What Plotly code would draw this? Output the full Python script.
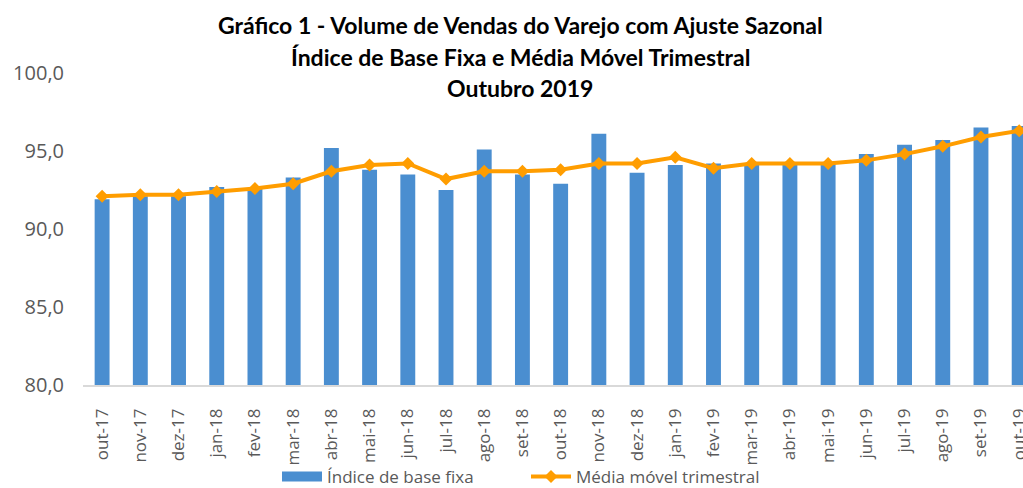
import plotly.graph_objects as go

categorias = ["out-17", "nov-17", "dez-17", "jan-18", "fev-18", "mar-18", "abr-18", "mai-18",
              "jun-18", "jul-18", "ago-18", "set-18", "out-18", "nov-18", "dez-18", "jan-19",
              "fev-19", "mar-19", "abr-19", "mai-19", "jun-19", "jul-19", "ago-19", "set-19", "out-19"]

indice_base_fixa = [91.9, 92.1, 92.1, 92.7, 92.6, 93.3, 95.2, 93.8, 93.5, 92.5, 95.1, 93.5,
                    92.9, 96.1, 93.6, 94.1, 94.2, 94.2, 94.2, 94.2, 94.8, 95.4, 95.7, 96.5, 96.6]

media_movel = [92.1, 92.2, 92.2, 92.4, 92.6, 92.9, 93.7, 94.1, 94.2, 93.2, 93.7, 93.7,
               93.8, 94.2, 94.2, 94.6, 93.9, 94.2, 94.2, 94.2, 94.4, 94.8, 95.3, 95.9, 96.3]

titulo = ["Gráfico 1 - Volume de Vendas do Varejo com Ajuste Sazonal",
          "Índice de Base Fixa e Média Móvel Trimestral",
          "Outubro 2019"]

y_ticks = [80, 85, 90, 95, 100]

cinza = "#595959"
azul = "#4A8ED0"
laranja = "#FF9D00"
fonte = "Open Sans"

fig = go.Figure()
fig.add_trace(go.Bar(
    x=categorias, y=indice_base_fixa, name="Índice de base fixa",
    marker=dict(color=azul, line=dict(width=0)), showlegend=False,
    legendgroup="idx",
))
# legend entry for the bars drawn as a wide rectangle (like the reference)
fig.add_trace(go.Scatter(
    x=[None], y=[None], name="Índice de base fixa", mode="lines",
    line=dict(color=azul, width=12), legendgroup="idx",
))
fig.add_trace(go.Scatter(
    x=categorias, y=media_movel, name="Média móvel trimestral",
    mode="lines+markers",
    line=dict(color=laranja, width=4),
    marker=dict(symbol="diamond", size=10, color=laranja),
))

title_y = [25, 57, 88]
for txt, yy in zip(titulo, title_y):
    fig.add_annotation(
        text="<b>" + txt + "</b>", xref="paper", yref="paper",
        x=(520 - 83) / 940, y=1 + (73 - yy) / 312,
        xanchor="center", yanchor="middle", showarrow=False,
        font=dict(family="Lato", size=23, color="#000000"),
    )

fig.update_layout(
    width=1023, height=488,
    margin=dict(l=83, r=0, t=73, b=103, autoexpand=False),
    paper_bgcolor="white", plot_bgcolor="white",
    separators=",.",
    bargap=0.61,
    font=dict(family=fonte, color=cinza),
    showlegend=True,
    legend=dict(
        orientation="h", xref="container", yref="paper",
        x=526 / 1023, xanchor="center", y=-92 / 312, yanchor="middle",
        font=dict(family=fonte, size=17, color=cinza),
        bgcolor="rgba(0,0,0,0)",
        itemwidth=40, tracegroupgap=0,
        entrywidth=194, entrywidthmode="pixels",
    ),
)

fig.update_xaxes(
    type="category", range=[-0.5, 24.1], automargin=False,
    tickangle=-90, tickfont=dict(family=fonte, size=17, color=cinza),
    showline=True, linecolor="#D9D9D9", linewidth=1.5,
    showgrid=False, ticks="", ticklabelstandoff=15, zeroline=False,
)
fig.update_yaxes(
    range=[80, 100], tickvals=y_ticks, tickformat=".1f", automargin=False,
    tickfont=dict(family=fonte, size=20, color=cinza),
    showgrid=False, showline=False, zeroline=False, ticks="",
    ticklabelstandoff=18,
)

fig.write_html("out.html")
